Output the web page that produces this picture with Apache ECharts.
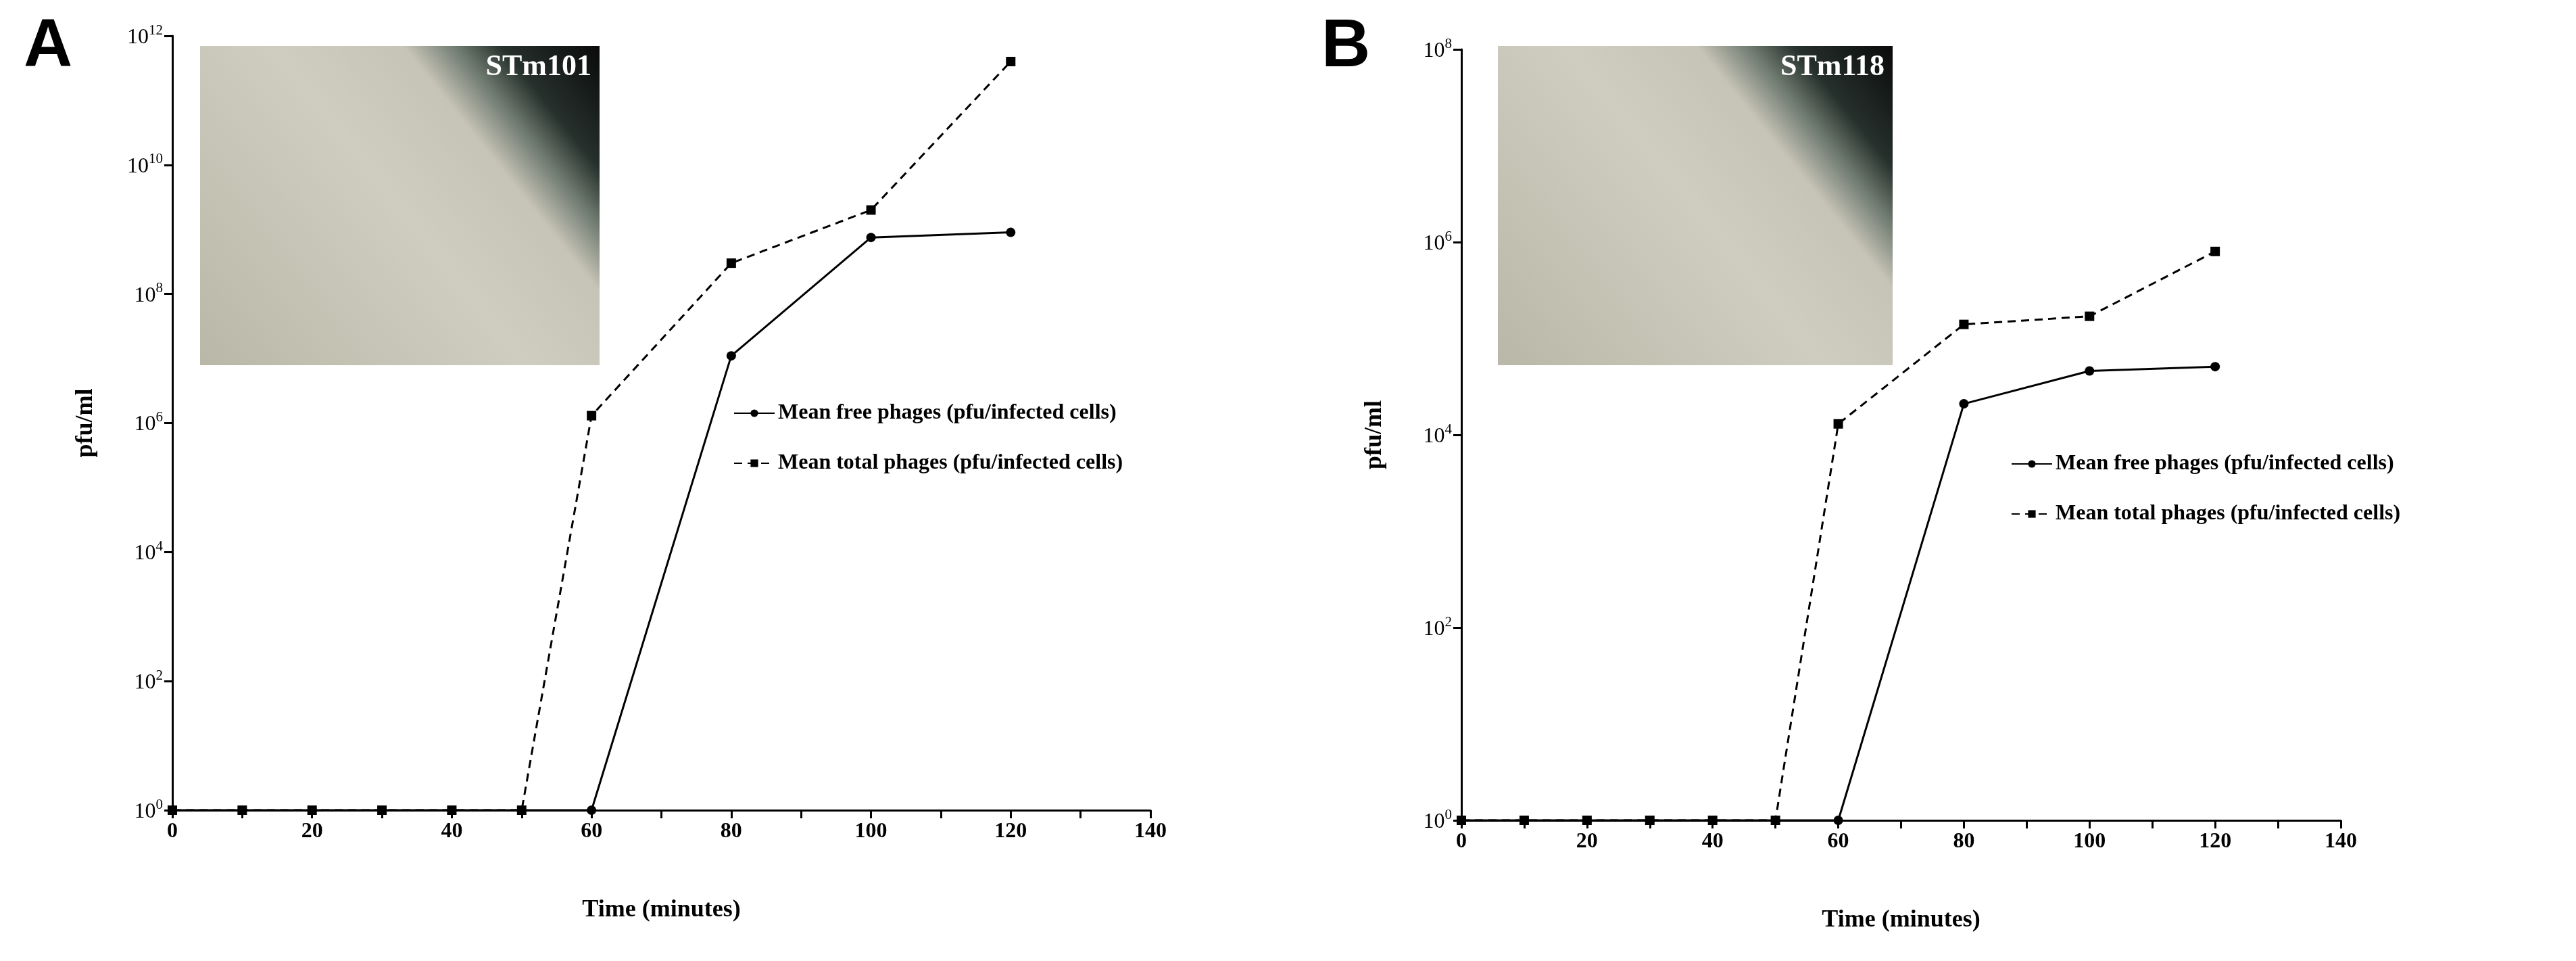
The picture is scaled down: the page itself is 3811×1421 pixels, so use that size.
<!DOCTYPE html><html><head><meta charset="utf-8">
<script src="https://cdn.jsdelivr.net/npm/echarts@6/dist/echarts.min.js"></script>
<style>html,body{margin:0;padding:0;background:#fff}#c{width:3811px;height:1421px}</style></head><body><div id="c"></div>
<script>
const timeA = [0,10,20,30,40,50,60,80,100,120];
const freeA = [1,1,1,1,1,1,1,1.1e7,7.5e8,9e8];
const totalA = [1,1,1,1,1,1,1.3e6,3e8,2e9,4e11];
const timeB = [0,10,20,30,40,50,60,80,100,120];
const freeB = [1,1,1,1,1,1,1,2.1e4,4.6e4,5.1e4];
const totalB = [1,1,1,1,1,1,1.3e4,1.4e5,1.7e5,8e5];
const nameFree = 'Mean free phages (pfu/infected cells)';
const nameTotal = 'Mean total phages (pfu/infected cells)';
const F = 'Liberation Serif';
const chart = echarts.init(document.getElementById('c'));
function pair(t,v){return t.map((x,i)=>[x,v[i]]);}
function xAx(gi){return {type:'value',gridIndex:gi,min:0,max:140,interval:20,
 axisLine:{lineStyle:{color:'#000',width:3}},axisTick:{length:12,lineStyle:{width:3}},
 minorTick:{show:true,splitNumber:2,length:12,lineStyle:{color:'#000',width:3}},
 splitLine:{show:false},axisLabel:{fontFamily:F,fontWeight:'bold',fontSize:32,color:'#000',margin:16},
 name:'Time (minutes)',nameLocation:'middle',nameGap:130,nameTextStyle:{fontFamily:F,fontWeight:'bold',fontSize:36,color:'#000'}};}
function yAx(gi,max){return {type:'log',logBase:10,gridIndex:gi,min:1,max:max,interval:2,
 axisLine:{show:true,lineStyle:{color:'#000',width:3}},axisTick:{show:true,length:12,lineStyle:{width:3}},
 splitLine:{show:false},
 axisLabel:{margin:14,formatter:v=>{const e=Math.round(Math.log10(v));return '{b|10}{s|'+e+'}';},
  rich:{b:{fontFamily:F,fontSize:32,color:'#000',verticalAlign:'bottom'},s:{fontFamily:F,fontSize:21,color:'#000',verticalAlign:'top',padding:[0,0,16,0]}}},
 name:'pfu/ml',nameLocation:'middle',nameGap:110,nameTextStyle:{fontFamily:F,fontWeight:'bold',fontSize:36,color:'#000'}};}
function ser(name,d,gi,sym,dash){return {name,type:'line',xAxisIndex:gi,yAxisIndex:gi,data:d,symbol:sym,symbolSize:14,
 lineStyle:{color:'#000',width:3,type:dash?[12,8]:'solid'},itemStyle:{color:'#000'},z:5};}
function inset(x,y,w,h,label){return [
 {type:'rect',shape:{x,y,width:w,height:h},style:{fill:new echarts.graphic.LinearGradient(0,1,1,0,[{offset:0,color:'#b9b8a8'},{offset:0.5,color:'#cfcdc0'},{offset:0.7,color:'#c6c4b6'},{offset:0.78,color:'#6f7a70'},{offset:0.85,color:'#26302c'},{offset:1,color:'#0a0a0a'}])},z:1},
 {type:'text',x:x+w-12,y:y+10,style:{text:label,fill:'#fff',font:'bold 44px "Liberation Serif"',textAlign:'right'},z:2}];}
chart.setOption({
 animation:false,
 grid:[{left:255,top:53,width:1447,height:1145},{left:2162,top:73,width:1301,height:1140}],
 xAxis:[xAx(0),xAx(1)],
 yAxis:[yAx(0,1e12),yAx(1,1e8)],
 legend:[
  {data:[nameFree,nameTotal],orient:'vertical',left:1080,top:590,itemGap:42,itemWidth:60,itemHeight:14,textStyle:{fontFamily:F,fontWeight:'bold',fontSize:32,color:'#000'}},
  {data:[nameFree,nameTotal],orient:'vertical',left:2970,top:665,itemGap:42,itemWidth:60,itemHeight:14,textStyle:{fontFamily:F,fontWeight:'bold',fontSize:32,color:'#000'}}
 ],
 series:[ser(nameFree,pair(timeA,freeA),0,'circle',false),ser(nameTotal,pair(timeA,totalA),0,'rect',true),
  ser(nameFree,pair(timeB,freeB),1,'circle',false),ser(nameTotal,pair(timeB,totalB),1,'rect',true)],
 graphic:[
  {type:'text',left:35,top:20,style:{text:'A',fill:'#000',font:'bold 100px "Liberation Sans"'}},
  {type:'text',left:1955,top:20,style:{text:'B',fill:'#000',font:'bold 100px "Liberation Sans"'}},
  ...inset(296,68,591,472,'STm101'),...inset(2216,68,584,472,'STm118')
 ]
});
</script></body></html>
